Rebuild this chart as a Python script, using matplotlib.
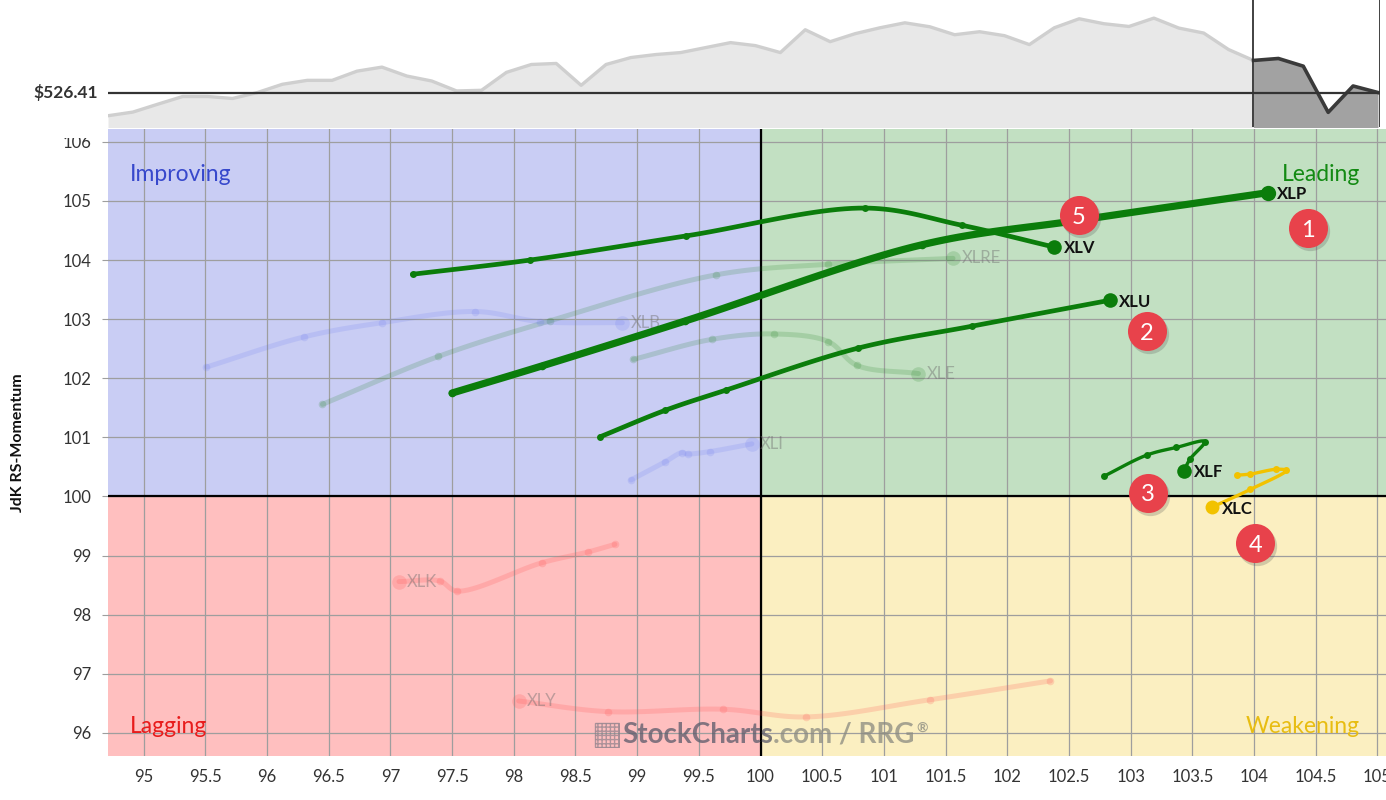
import numpy as np
import matplotlib
matplotlib.use("Agg")
import matplotlib.pyplot as plt
from matplotlib.patches import Rectangle
import matplotlib.transforms as mtransforms

plt.rcParams['font.family'] = ['Lato', 'DejaVu Sans']

# ---------------- data ----------------
# SPY weekly closes shown in the price strip (oldest -> latest)
spy_close = [501.7, 505.6, 514.0, 522.2, 522.2, 520.1, 526.4, 535.2, 539.4, 539.4,
             549.2, 553.5, 544.0, 538.7, 528.1, 528.8, 547.9, 556.3, 557.4, 534.1,
             556.3, 563.7, 566.9, 569.0, 574.3, 579.6, 576.4, 569.0, 593.3, 580.6,
             589.1, 595.4, 600.7, 596.5, 588.0, 591.2, 587.0, 577.5, 595.4, 605.0,
             599.7, 596.8, 605.7, 595.1, 589.8, 572.2, 560.6, 562.7, 554.5, 505.3,
             533.4, 526.41]
spy_last = 526.41
tail_weeks = 5
title_sym = "SPY"
title_sub = "(5 weeks ending April 17 16:00, 2025)"

tickers = ["XLP", "XLV", "XLU", "XLF", "XLC", "XLRE", "XLB", "XLE", "XLI", "XLK", "XLY"]
rs_ratio = {
    "XLP":  [97.50, 98.23, 99.39, 101.31, 102.60, 104.11],
    "XLV":  [97.18, 98.13, 99.40, 100.85, 101.63, 102.38],
    "XLU":  [98.70, 99.23, 99.72, 100.79, 101.71, 102.83],
    "XLF":  [102.78, 103.13, 103.37, 103.60, 103.48, 103.43],
    "XLC":  [103.86, 103.97, 104.18, 104.26, 103.97, 103.66],
    "XLRE": [96.45, 97.39, 98.29, 99.64, 100.55, 101.56],
    "XLB":  [95.51, 96.30, 96.93, 97.69, 98.21, 98.88],
    "XLE":  [98.97, 99.61, 100.11, 100.55, 100.78, 101.28],
    "XLI":  [98.95, 99.23, 99.36, 99.41, 99.59, 99.93],
    "XLK":  [98.82, 98.60, 98.23, 97.54, 97.40, 97.07],
    "XLY":  [102.35, 101.37, 100.37, 99.70, 98.76, 98.04],
}
rs_mom = {
    "XLP":  [101.75, 102.21, 102.97, 104.26, 104.68, 105.14],
    "XLV":  [103.76, 104.00, 104.41, 104.88, 104.59, 104.22],
    "XLU":  [101.01, 101.46, 101.80, 102.51, 102.88, 103.32],
    "XLF":  [100.34, 100.70, 100.83, 100.93, 100.63, 100.43],
    "XLC":  [100.36, 100.38, 100.46, 100.44, 100.12, 99.82],
    "XLRE": [101.56, 102.37, 102.97, 103.75, 103.93, 104.03],
    "XLB":  [102.19, 102.70, 102.94, 103.13, 102.96, 102.94],
    "XLE":  [102.32, 102.66, 102.75, 102.62, 102.22, 102.08],
    "XLI":  [100.28, 100.59, 100.74, 100.72, 100.76, 100.89],
    "XLK":  [99.19, 99.06, 98.88, 98.40, 98.57, 98.56],
    "XLY":  [96.88, 96.56, 96.27, 96.40, 96.36, 96.54],
}
highlighted = ["XLP", "XLV", "XLU", "XLF", "XLC"]

badge_numbers = ["1", "2", "3", "4", "5"]
badge_ratio = [104.44, 103.13, 103.14, 104.01, 102.58]
badge_mom = [104.54, 102.80, 100.06, 99.21, 104.76]

x_ticks = [95 + 0.5 * i for i in range(21)]
y_ticks = list(range(96, 107))

# ---------------- styles ----------------
W, H = 1386, 800
bg = {"Improving": "#c9cdf4", "Leading": "#c2e0c2", "Lagging": "#ffbfbf", "Weakening": "#fbefc1"}
qcol = {"Improving": "#3748cc", "Leading": "#138a13", "Lagging": "#e81c1c", "Weakening": "#e8bd12"}
green = "#0b7d0b"
gold = "#f2c200"
style = {
    "XLP": dict(color=green, lw=5.2, ms=5.5, hs=11, alpha=1.0),
    "XLV": dict(color=green, lw=3.4, ms=5.0, hs=10.5, alpha=1.0),
    "XLU": dict(color=green, lw=3.4, ms=5.0, hs=10.5, alpha=1.0),
    "XLF": dict(color=green, lw=2.4, ms=5.0, hs=10.5, alpha=1.0),
    "XLC": dict(color=gold, lw=2.4, ms=5.0, hs=10, alpha=1.0),
    "XLRE": dict(color="#137a13", lw=3.6, ms=5.5, hs=10.5, alpha=0.17),
    "XLB": dict(color="#5a6cf0", lw=3.6, ms=5.5, hs=10.5, alpha=0.15),
    "XLE": dict(color="#137a13", lw=3.6, ms=5.5, hs=10.5, alpha=0.17),
    "XLI": dict(color="#5a6cf0", lw=3.6, ms=5.5, hs=10.5, alpha=0.15),
    "XLK": dict(color="#ff5050", lw=3.6, ms=5.5, hs=10.5, alpha=0.2),
    "XLY": dict(color="#ff5050", lw=3.6, ms=5.5, hs=10.5, alpha=0.2),
}

fig = plt.figure(figsize=(W / 100, H / 100), dpi=100)

def fx(px):
    return px / W

def fy(py):
    return 1 - py / H

# main RRG axes
ax = fig.add_axes([fx(108), fy(756), fx(1386) - fx(108), fy(129) - fy(756)])
xmin, xmax = 94.712, 105.069
ymin, ymax = 95.609, 106.218
ax.set_xlim(xmin, xmax)
ax.set_ylim(ymin, ymax)

ax.add_patch(Rectangle((xmin, 100), 100 - xmin, ymax - 100, color=bg["Improving"], zorder=0, lw=0))
ax.add_patch(Rectangle((100, 100), xmax - 100, ymax - 100, color=bg["Leading"], zorder=0, lw=0))
ax.add_patch(Rectangle((xmin, ymin), 100 - xmin, 100 - ymin, color=bg["Lagging"], zorder=0, lw=0))
ax.add_patch(Rectangle((100, ymin), xmax - 100, 100 - ymin, color=bg["Weakening"], zorder=0, lw=0))

ax.set_xticks(x_ticks)
ax.set_xticklabels(["%g" % v for v in x_ticks])
ax.set_yticks(y_ticks)
ax.set_yticklabels([str(v) for v in y_ticks])
ax.grid(True, color="#9e9e9e", lw=0.9, zorder=1)
ax.set_axisbelow(True)
for s in ax.spines.values():
    s.set_visible(False)
ax.tick_params(axis="x", length=0, pad=9, labelsize=12, labelcolor="#333333")
ax.tick_params(axis="y", length=4, width=0.8, color="#9e9e9e", pad=8, labelsize=12, labelcolor="#333333")
ax.axvline(100, color="black", lw=1.6, zorder=2)
ax.axhline(100, color="black", lw=1.6, zorder=2)

ax.set_ylabel("JdK RS-Momentum", fontsize=11.5, fontweight="bold", color="#111111")
ax.yaxis.set_label_coords((25 - 108) / (1386 - 108), 0.5)
ax.set_xlabel("JdK RS-Ratio", fontsize=11.5, fontweight="bold", color="#111111", labelpad=14)

# quadrant labels
tkw = dict(fontsize=16.5, zorder=3)
ax.text(xmin + 0.18, 105.45, "Improving", color=qcol["Improving"], ha="left", va="center", **tkw)
ax.text(104.86, 105.45, "Leading", color=qcol["Leading"], ha="right", va="center", **tkw)
ax.text(xmin + 0.18, 96.1, "Lagging", color=qcol["Lagging"], ha="left", va="center", **tkw)
ax.text(104.86, 96.1, "Weakening", color=qcol["Weakening"], ha="right", va="center", **tkw)

SX, SY = 123.4, 59.1

def smooth(xs, ys, n=24):
    P = np.column_stack([np.asarray(xs) * SX, np.asarray(ys) * SY])
    P = np.vstack([2 * P[0] - P[1], P, 2 * P[-1] - P[-2]])
    out = [P[1]]
    for i in range(1, len(P) - 2):
        p0, p1, p2, p3 = P[i - 1], P[i], P[i + 1], P[i + 2]
        def tj(ti, a, b):
            return ti + max(np.linalg.norm(b - a), 1e-6) ** 0.5
        t0 = 0.0
        t1 = tj(t0, p0, p1)
        t2 = tj(t1, p1, p2)
        t3 = tj(t2, p2, p3)
        t = np.linspace(t1, t2, n)[1:, None]
        A1 = (t1 - t) / (t1 - t0) * p0 + (t - t0) / (t1 - t0) * p1
        A2 = (t2 - t) / (t2 - t1) * p1 + (t - t1) / (t2 - t1) * p2
        A3 = (t3 - t) / (t3 - t2) * p2 + (t - t2) / (t3 - t2) * p3
        B1 = (t2 - t) / (t2 - t0) * A1 + (t - t0) / (t2 - t0) * A2
        B2 = (t3 - t) / (t3 - t1) * A2 + (t - t1) / (t3 - t1) * A3
        C = (t2 - t) / (t2 - t1) * B1 + (t - t1) / (t2 - t1) * B2
        out.extend(list(C))
    out = np.array(out)
    return out[:, 0] / SX, out[:, 1] / SY

for k, tk in enumerate(tickers):
    st = style[tk]
    xs, ys = rs_ratio[tk], rs_mom[tk]
    hi = tk in highlighted
    z = 6 if hi else 4
    sx, sy = smooth(xs, ys)
    ax.plot(sx, sy, color=st["color"], lw=st["lw"], alpha=st["alpha"], solid_capstyle="round", zorder=z)
    ax.plot(xs[:-1], ys[:-1], "o", color=st["color"], ms=st["ms"], alpha=st["alpha"], mew=0, zorder=z)
    ax.plot(xs[-1:], ys[-1:], "o", color=st["color"], ms=st["hs"], alpha=st["alpha"], mew=0, zorder=z + 0.5)
    if hi:
        ax.annotate(tk, (xs[-1], ys[-1]), xytext=(7, -1), textcoords="offset points",
                    ha="left", va="center", fontsize=12, fontweight="bold", color="#111111", zorder=8)
    else:
        ax.annotate(tk, (xs[-1], ys[-1]), xytext=(6, 0), textcoords="offset points",
                    ha="left", va="center", fontsize=12, color="#6f6f6f", alpha=0.45, zorder=5)

# numbered badges
shadow = ax.transData + mtransforms.ScaledTranslation(1.5 / 72, -2 / 72, fig.dpi_scale_trans)
ax.scatter(badge_ratio, badge_mom, s=800, color="#555555", alpha=0.25, zorder=8.5,
           linewidths=0, transform=shadow)
ax.scatter(badge_ratio, badge_mom, s=790, color="#e8424b", zorder=9, linewidths=0)
for t, bx, by in zip(badge_numbers, badge_ratio, badge_mom):
    ax.text(bx, by, t, color="white", fontsize=17, ha="center", va="center_baseline", zorder=10)

# watermark
renderer = fig.canvas.get_renderer()
t1 = fig.text(fx(622), fy(743), "StockCharts", fontsize=20, fontweight="bold", color="#5a5a6a",
              alpha=0.75, ha="left", va="baseline", zorder=20)
bb = t1.get_window_extent(renderer)
t2 = fig.text(bb.x1 / W, fy(743), ".com / RRG", fontsize=20, fontweight="bold", color="#8a8a80",
              alpha=0.75, ha="left", va="baseline", zorder=20)
bb2 = t2.get_window_extent(renderer)
fig.text(bb2.x1 / W + 2 / W, fy(728), "®", fontsize=10, fontweight="bold", color="#8a8a80",
         alpha=0.75, ha="left", va="center", zorder=20)
icon = fig.add_axes([fx(594), fy(748), fx(26), 26 / H])
icon.set_xlim(0, 1)
icon.set_ylim(0, 1)
icon.axis("off")
icon.add_patch(Rectangle((0.02, 0.02), 0.96, 0.96, fill=False, hatch="++++", ec="#8a7f8a", lw=1.0, alpha=0.7))
icon.set_zorder(20)

# price strip
pax = fig.add_axes([fx(108), fy(127), fx(1380) - fx(108), 127 / H])
pax.set_zorder(5)
n = len(spy_close)
idx = np.arange(n)
split = n - 1 - tail_weeks
pax.set_xlim(0, (n - 1) * 1272 / 1270)
pax.set_ylim(489.7, 625.0)
pax.fill_between(idx[:split + 1], spy_close[:split + 1], 0, color="#e8e8e8", lw=0, zorder=1)
pax.plot(idx[:split + 1], spy_close[:split + 1], color="#cfcfcf", lw=2.4, zorder=2)
pax.fill_between(idx[split:], spy_close[split:], 0, color="#a2a2a2", lw=0, zorder=1)
pax.plot(idx[split:], spy_close[split:], color="#3a3a3a", lw=2.6, zorder=3)
pax.axhline(spy_last, color="#333333", lw=1.6, zorder=4)
pax.axvline(split, color="#333333", lw=1.3, zorder=4)
pax.axvline((n - 1) * 1272 / 1270, color="#333333", lw=1.3, zorder=4)
for s in pax.spines.values():
    s.set_visible(False)
pax.set_xticks([])
pax.set_yticks([])
pax.text(-0.008, spy_last, "$%.2f" % spy_last, transform=pax.get_yaxis_transform(),
         ha="right", va="center", fontsize=12.5, fontweight="bold", color="#333333")

# mask over the top tick label, as in the reference
mask = fig.add_axes([0, fy(138), fx(106), 138 / H])
mask.axis("off")
mask.add_patch(Rectangle((0, 0), 1, 1, color="white", transform=mask.transAxes, zorder=0))
mask.set_zorder(4)

# clipped title
fig.text(fx(124), fy(10), title_sym, fontsize=15, fontweight="bold", color="#333333", ha="left", va="baseline")
fig.text(fx(173), fy(7.5), title_sub, fontsize=10.5, color="#444444", ha="left", va="baseline")

fig.savefig("out.png", dpi=100)
